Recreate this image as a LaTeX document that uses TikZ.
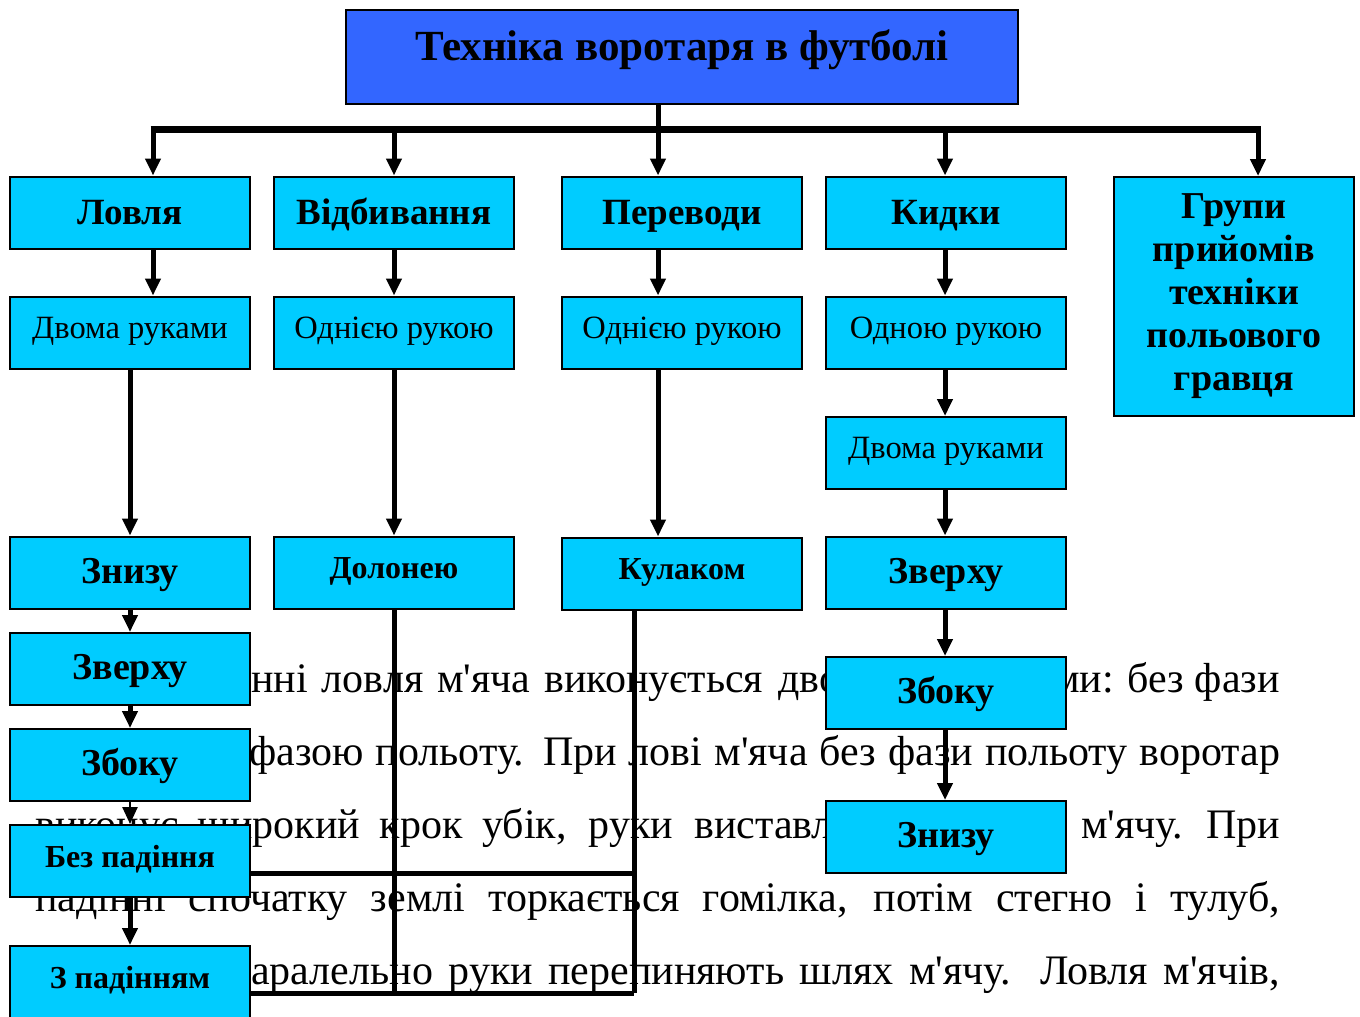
\documentclass[tikz,border=0pt]{standalone}
\usepackage{fontspec}
\setmainfont{Liberation Serif}
\usetikzlibrary{arrows.meta}
\pgfdeclarelayer{textl}
\pgfdeclarelayer{connl}
\pgfsetlayers{textl,connl,main}
\definecolor{topblue}{HTML}{3366FF}
\definecolor{boxcyan}{HTML}{00CCFF}
\newcommand\ap{\textquotesingle}
\begin{document}
\begin{tikzpicture}[x=1pt,y=-1pt,
  boxbase/.style={draw=black, line width=2pt, fill=boxcyan, minimum width=240pt, minimum height=72pt, inner sep=0pt, text=black},
  titlebox/.style={draw=black, line width=2pt, fill=topblue, minimum width=672pt, minimum height=94pt, inner sep=0pt,
    font=\fontsize{43pt}{50pt}\selectfont\bfseries, text height=32pt, text depth=26pt},
  lvlone/.style={boxbase, font=\fontsize{37pt}{43pt}\selectfont\bfseries, text height=28pt, text depth=5pt},
  lvltwo/.style={boxbase, font=\fontsize{32.5pt}{38pt}\selectfont, text height=24pt, text depth=13pt},
  lvlbig/.style={boxbase, font=\fontsize{38pt}{43pt}\selectfont\bfseries, text height=28pt, text depth=7pt},
  lvlsmall/.style={boxbase, font=\fontsize{32pt}{37pt}\selectfont\bfseries, text height=24pt, text depth=12pt},
  grpbox/.style={boxbase, minimum height=239pt, align=center, font=\fontsize{38pt}{43pt}\selectfont\bfseries},
  para/.style={anchor=base west, inner sep=0pt, font=\fontsize{42pt}{50pt}\selectfont},
  conn/.style={line width=5pt},
  arr/.style={line width=5pt, -{Triangle[length=17pt,width=15pt]}},
  thinarr/.style={line width=2.5pt, -{Triangle[length=17pt,width=15pt]}}]
\useasboundingbox (0,0) rectangle (1360,1017);

% boxes
\node[titlebox] (title) at (682,57) {Техніка воротаря в футболі};
\node[lvlone] (lov) at (130,212.5) {Ловля};
\node[lvlone] (vid) at (394,212.5) {Відбивання};
\node[lvlone] (per) at (682,212.5) {Переводи};
\node[lvlone] (kid) at (946,212.5) {Кидки};
\node[grpbox] (grp) at (1234,296.5) {Групи\\прийомів\\техніки\\польового\\гравця};

\node[lvltwo] (dvl) at (130,332.5) {Двома руками};
\node[lvltwo] (odv) at (394,332.5) {Однією рукою};
\node[lvltwo] (odp) at (682,332.5) {Однією рукою};
\node[lvltwo] (odk) at (946,332.5) {Одною рукою};
\node[lvltwo] (dvk) at (946,453) {Двома руками};

\node[lvlbig] (zn) at (130,572.5) {Знизу};
\node[lvlsmall] (dol) at (394,572.5) {Долонею};
\node[lvlsmall] (kul) at (682,573.5) {Кулаком};
\node[lvlbig] (zvk) at (946,572.5) {Зверху};

\node[lvlbig] (zvl) at (130,669) {Зверху};
\node[lvlbig] (zbl) at (130,765) {Збоку};
\node[lvlsmall] (bez) at (130,861) {Без падіння};
\node[lvlsmall] (zpad) at (130,982) {З падінням};

\node[lvlbig] (zbk) at (946,693) {Збоку};
\node[lvlbig] (znk) at (946,837) {Знизу};

% background paragraph
\begin{pgfonlayer}{textl}
\node[para] (t1a) at (251,692) {\makebox[512pt][s]{нні ловля м\ap яча виконується}};
\node[para] (t1b) at (778,692) {дво};
\node[para, anchor=base east] (t1c) at (1280,692) {ми: без фази};
\node[para] (t2) at (249,765) {\makebox[1031pt][s]{фазою польоту. При лові м\ap яча без фази польоту воротар}};
\node[para] (t3a) at (35,838) {\makebox[638pt][s]{виконує широкий крок убік, руки}};
\node[para] (t3b) at (694,838) {виставля};
\node[para] (t3c) at (1081,838) {\makebox[199pt][s]{м\ap ячу. При}};
\node[para] (t4) at (35,911) {\makebox[1245pt][s]{падінні спочатку землі торкається гомілка, потім стегно і тулуб,}};
\node[para] (t5) at (251,984) {\makebox[1029pt][s]{аралельно руки перепиняють шлях м\ap ячу. Ловля м\ap ячів,}};
\end{pgfonlayer}

% connectors
\begin{pgfonlayer}{connl}
\coordinate (b1) at (153,129);
\coordinate (b2) at (394,129);
\coordinate (b3) at (658,129);
\coordinate (b4) at (945,129);
\coordinate (b5) at (1258,129);
\coordinate (lx) at (130,0);
\coordinate (kt) at (634,873);
\coordinate (kb) at (634,993);

\draw[conn] (title.south -| b3) -- (b3);
\draw[line width=7pt] ([xshift=-2.5pt]b1) -- ([xshift=2.5pt]b5);
\draw[arr] (b1) -- (lov.north -| b1);
\draw[arr] (b2) -- (vid.north -| b2);
\draw[arr] (b3) -- (per.north -| b3);
\draw[arr] (b4) -- (kid.north -| b4);
\draw[arr] (b5) -- (grp.north -| b5);

\draw[arr] (lov.south -| b1) -- (dvl.north -| b1);
\draw[arr] (vid.south) -- (odv.north);
\draw[arr] (per.south -| b3) -- (odp.north -| b3);
\draw[arr] (kid.south -| b4) -- (odk.north -| b4);

\draw[arr] (dvl.south -| lx) -- (zn.north -| lx);
\draw[arr] (odv.south) -- (dol.north);
\draw[arr] (odp.south -| b3) -- (kul.north -| b3);
\draw[arr] (odk.south -| b4) -- (dvk.north -| b4);
\draw[arr] (dvk.south -| b4) -- (zvk.north -| b4);

\draw[arr] (zn.south) -- (zvl.north);
\draw[arr] (zvl.south) -- (zbl.north);
\draw[thinarr] (zbl.south) -- (bez.north);
\draw[arr] (bez.south) -- (zpad.north);

\draw[arr] (zvk.south -| b4) -- (zbk.north -| b4);
\draw[arr] (zbk.south -| b4) -- (znk.north -| b4);

\draw[conn] (dol.south) -- (dol.south |- kb);
\draw[conn] (kul.south -| kb) -- (kb);
\draw[conn] (bez.east |- kt) -- (kt);
\draw[conn] (zpad.east |- kb) -- (kb);
\end{pgfonlayer}
\end{tikzpicture}
\end{document}
